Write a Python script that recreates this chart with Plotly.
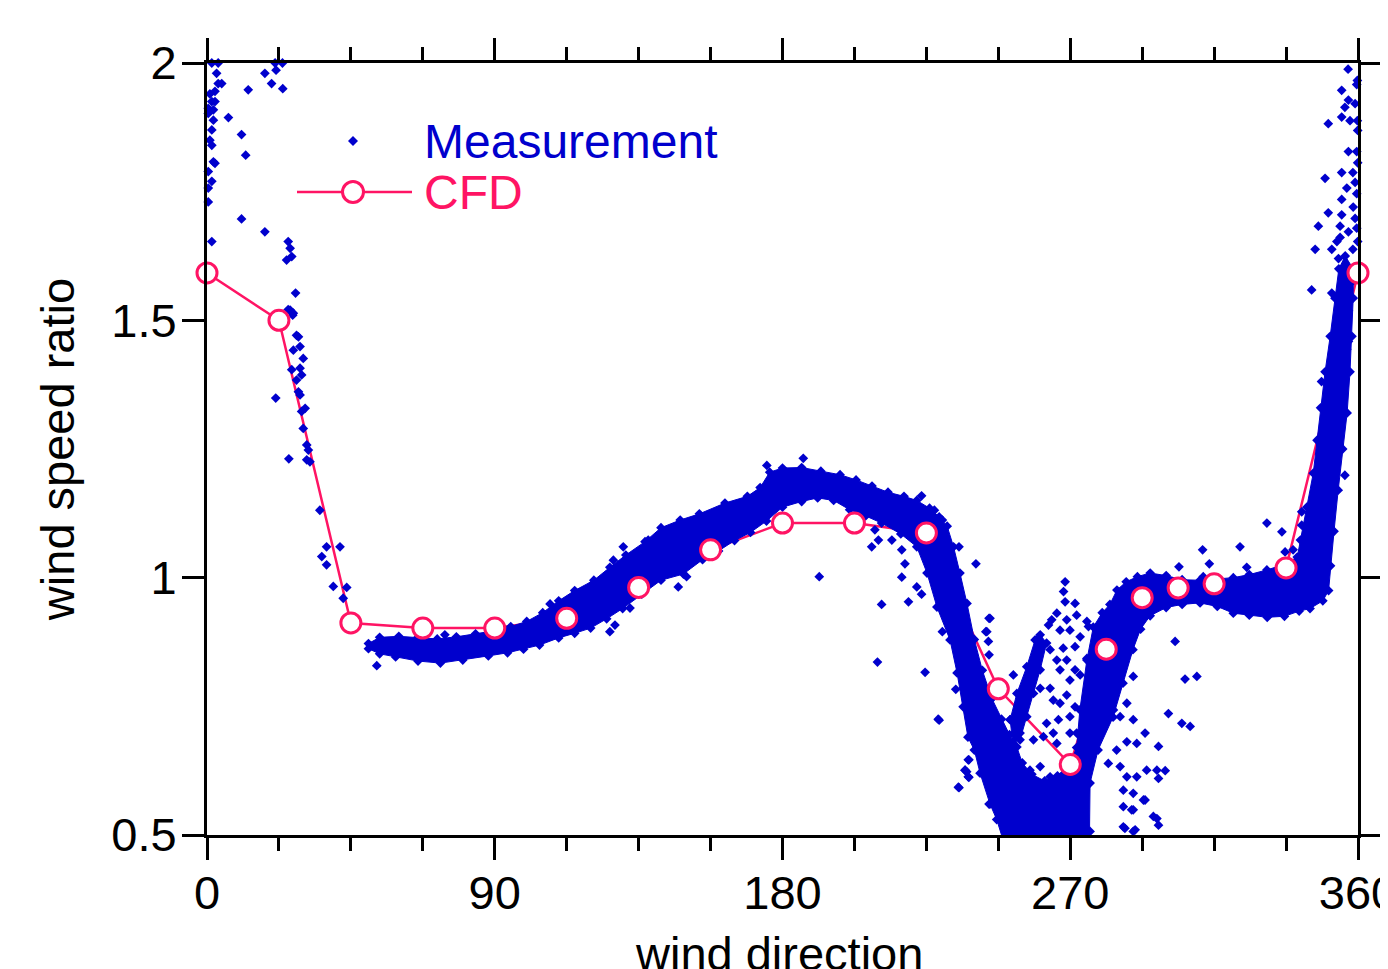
import plotly.graph_objects as go

# ---------------- data ----------------
# CFD results
cfd_x = [0, 22.5, 45, 67.5, 90, 112.5, 135, 157.5, 180, 202.5, 225, 247.5,
         270, 281.25, 292.5, 303.75, 315, 337.5, 360]
cfd_y = [1.592, 1.50, 0.912, 0.902, 0.902, 0.921, 0.981, 1.054, 1.106, 1.106,
         1.087, 0.784, 0.637, 0.861, 0.961, 0.980, 0.988, 1.019, 1.592]

band_x = [50.5, 54, 60, 66, 72, 78, 84, 90, 95, 100, 105, 110, 115, 121, 126, 131, 137, 142,
          148, 154, 162, 169, 173, 176, 180, 186, 192, 198, 203, 208, 213, 218, 222, 226, 229,
          231.5, 233.5, 235.5, 237.7, 240, 242.5, 245.5, 248.5, 251, 253.3,
          255, 258, 262, 266, 270, 272,
          273, 275.2, 277.2, 280, 282.4, 284.6, 287.5, 291, 295, 300, 305, 310.6, 316, 321, 326,
          331.5, 337, 341, 342, 344, 346, 347.2, 348.3, 349.7, 351.3, 352.8, 354, 356,
          358.5, 358.5, 358.1, 357.5, 356.6, 355.2, 353.8, 352.5, 351.4, 350.8, 349,
          345, 341.6, 337, 331.6, 326, 321, 316, 310.6, 305, 300, 295, 292, 289.6, 286.5, 283.4,
          278.7, 276.2, 276, 249,
          247, 244.9, 241.8, 240, 238, 236.5, 234.6, 232.4, 228.3, 225.2, 222, 217, 211, 206,
          201, 196, 191, 186, 180, 175, 170, 165, 160, 155, 149, 142, 136, 130, 125, 120, 115,
          110, 104, 99, 94, 88, 80, 73, 66, 59, 54, 50.5]
band_y = [0.872, 0.884, 0.886, 0.884, 0.881, 0.885, 0.891, 0.897, 0.905, 0.915, 0.932, 0.955,
          0.975, 0.995, 1.02, 1.044, 1.07, 1.097, 1.112, 1.124, 1.145, 1.158, 1.175, 1.205,
          1.213, 1.214, 1.207, 1.2, 1.19, 1.178, 1.166, 1.158, 1.15, 1.135, 1.118,
          1.1, 1.06, 1.009, 0.95, 0.88, 0.82, 0.765, 0.725, 0.695, 0.671,
          0.64, 0.618, 0.605, 0.615, 0.64, 0.67,
          0.743, 0.84, 0.904, 0.932, 0.948, 0.976, 0.992, 1.002, 1.009, 1.004, 0.996, 0.995,
          0.998, 1.0, 1.006, 1.015, 1.026, 1.04, 1.073, 1.137, 1.203, 1.267, 1.33, 1.4, 1.469,
          1.543, 1.6, 1.625,
          1.6, 1.543, 1.469, 1.4, 1.32, 1.25, 1.17, 1.09, 1.023, 0.975, 0.955,
          0.94, 0.935, 0.925, 0.923, 0.927, 0.931, 0.944, 0.951, 0.948, 0.942, 0.926, 0.9,
          0.86, 0.795, 0.729, 0.665, 0.601, 0.49, 0.49,
          0.53, 0.56, 0.62, 0.665, 0.69, 0.749, 0.815, 0.879, 0.943, 1.009, 1.06, 1.085, 1.106,
          1.12, 1.132, 1.15, 1.155, 1.148, 1.137, 1.11, 1.088, 1.072, 1.052, 1.035, 1.007,
          0.995, 0.968, 0.94, 0.92, 0.902, 0.892, 0.883, 0.869, 0.861, 0.854, 0.848, 0.84,
          0.834, 0.838, 0.846, 0.852, 0.862]

# Secondary dense branch inside the V near 255-262 deg
branch_x = [251.2, 253.3, 256.4, 259, 260.6, 262.6, 260.6, 258.5, 256.4, 254.3, 252, 251.2]
branch_y = [0.724, 0.775, 0.827, 0.879, 0.889, 0.873, 0.821, 0.775, 0.73, 0.685, 0.68, 0.724]

# Individual (sparse) measurement points
meas_x = [
    1.5, 3.5, 3.0, 3.5, 4.6, 0.9, 2.5, 1.5, 2.5, 0.4, 2.0, 0.4, 2.0, 1.5, 0.9, 1.5, 2.0, 2.5,
    0.4, 1.5, 0.4, 0.4, 1.5, 6.7, 10.8, 12.1, 10.8, 12.9, 18.1, 21.6, 21.3, 23.6, 20.2, 23.7,
    18.1, 25.4, 26.0, 24.9, 26.5, 27.7, 26.0, 26.8, 25.4, 27.0, 28.0, 28.6, 29.1, 27.0, 30.1,
    26.5, 29.1, 29.6, 28.0, 28.6, 29.1, 30.7, 29.6, 30.1, 31.2, 31.7, 31.2, 32.2, 21.5, 25.6,
    35.3, 37.4, 41.6, 35.9, 37.4, 39.5, 43.7, 42.6, 53.1, 74.4,
    107.3, 126, 127.6, 132.3, 120.8, 130.2, 127.1, 138, 117.7, 147.4, 150, 175.1, 186.5, 191.5,
    207.9, 210, 208.9, 214.2, 217.3, 218.3, 217.3, 211, 219.4, 222, 223.5, 209.7, 224.6, 230,
    229, 234.2, 240.5, 235.2, 244.6, 243.6, 244.4, 244.6, 238.3, 237.1, 238.3, 235.2, 244.6,
    223.5, 227.5, 230, 228.7, 235, 237.6, 244.9, 243.9, 252.2,
    268.4, 267.9, 268.4, 271.5, 265.8, 264.2, 268.9, 272.0, 275.2, 275.7, 266.8, 269.9, 273.1,
    263.2, 259.5, 263.7, 267.8, 271.5, 275.2, 265.8, 268.9, 266.8, 271.5, 269.9, 273.1, 260.6,
    263.7, 257.4, 268.9, 264.7, 266.8, 271.5, 269.9, 262.6, 266.3, 272.0, 254.3, 258.5, 261.6,
    264.7, 265.8, 269.9, 257.4, 260.6, 263.7, 259.5, 261.6, 238.1, 237.1, 238.1,
    289.7, 287.7, 285.6, 283.5, 289.7, 293.4, 287.7, 290.8, 284.5, 281.9, 285.6, 287.7, 290.8,
    293.9, 297.1, 286.6, 289.7, 286.6, 292.9, 289.7, 296.0, 286.6, 289.7,
    302.8, 305.9, 309.6, 300.7, 304.9, 307.5, 297.6, 299.7, 297.6, 297.1, 297.6, 290.3, 287.1,
    293.4, 289.2, 276.2,
    304, 311.4, 313.5, 323.1, 325.2, 331.5, 336.2, 342.4, 342.4, 342.9, 339.7, 311.6,
    356.9, 359.8, 359.6, 354.9, 359.1, 357.0, 355.9, 354.9, 357.5, 359.8, 350.7, 359.9, 357.0,
    359.6, 359.9, 354.9, 358.4, 349.7, 359.1, 356.5, 359.6, 354.9, 358.5, 350.7, 354.9, 359.1,
    354.4, 359.6, 347.6, 354.4, 357.0, 353.4, 359.9, 346.6, 351.8, 358.4, 353.9, 355.4, 345.5,
    351.8, 354.9, 357.5, 354.9, 357.0, 354.4, 356.5, 354.4, 357.0, 348.6, 356.5, 355.9, 337.2,
    348.6]
meas_y = [
    2.0, 2.0, 1.98, 1.96, 1.96, 1.94, 1.945, 1.925, 1.925, 1.912, 1.909, 1.902, 1.889, 1.87,
    1.85, 1.84, 1.808, 1.805, 1.789, 1.77, 1.757, 1.73, 1.653, 1.894, 1.861, 1.821, 1.697,
    1.948, 1.98, 1.986, 2.0, 2.0, 1.96, 1.95, 1.672, 1.653, 1.64, 1.617, 1.624, 1.553, 1.52,
    1.51, 1.521, 1.514, 1.471, 1.468, 1.449, 1.442, 1.426, 1.404, 1.407, 1.394, 1.384, 1.361,
    1.355, 1.329, 1.323, 1.29, 1.258, 1.248, 1.229, 1.225, 1.349, 1.231, 1.131, 1.06, 1.06,
    1.041, 1.025, 0.983, 0.981, 0.96, 0.829, 0.889,
    0.949, 0.895, 0.908, 0.941, 0.989, 1.06, 1.034, 1.073, 0.97, 0.982, 1.002, 1.218, 1.232,
    1.002,
    1.06, 1.073, 1.093, 1.073, 1.054, 1.027, 1.001, 0.948, 0.953, 0.982, 0.968, 0.836, 0.816,
    0.895, 0.723, 0.783, 1.027, 1.06, 0.921, 0.895, 0.876, 0.85, 0.646, 0.626, 0.612, 0.592,
    0.56, 1.159, 1.131, 1.112, 0.725, 0.593, 0.623, 0.921, 0.895, 0.811,
    0.992, 0.973, 0.953, 0.95, 0.931, 0.918, 0.918, 0.927, 0.915, 0.905, 0.898, 0.898, 0.885,
    0.908, 0.879, 0.86, 0.863, 0.866, 0.843, 0.84, 0.84, 0.821, 0.821, 0.801, 0.811, 0.785,
    0.785, 0.775, 0.772, 0.762, 0.756, 0.749, 0.73, 0.717, 0.724, 0.698, 0.698, 0.685, 0.691,
    0.698, 0.678, 0.698, 0.626, 0.633, 0.613, 0.594, 0.574, 0.646, 0.626, 0.613,
    0.808, 0.756, 0.73, 0.743, 0.724, 0.698, 0.681, 0.678, 0.665, 0.639, 0.633, 0.613, 0.613,
    0.626, 0.626, 0.587, 0.581, 0.555, 0.568, 0.549, 0.536, 0.516, 0.507,
    0.876, 0.803, 0.808, 0.736, 0.717, 0.711, 0.672, 0.625, 0.61, 0.532, 0.519, 0.51, 0.513,
    0.568, 0.549, 0.507,
    1.021, 1.054, 1.027, 1.06, 1.02, 1.106, 1.089, 1.128, 1.102, 1.076, 1.054, 1.002,
    1.988, 1.966, 1.958, 1.947, 1.921, 1.928, 1.914, 1.895, 1.888, 1.888, 1.882, 1.869, 1.828,
    1.828, 1.806, 1.787, 1.787, 1.776, 1.768, 1.757, 1.746, 1.735, 1.72, 1.709, 1.705, 1.698,
    1.683, 1.679, 1.683, 1.661, 1.672, 1.653, 1.653, 1.638, 1.638, 1.638, 1.62, 1.601, 1.559,
    1.553, 1.564, 1.571, 1.534, 1.519, 1.504, 1.489, 1.467, 1.459, 1.381, 1.444, 1.199, 1.05,
    1.27]

x_ticks = [0, 90, 180, 270, 360]
y_ticks = [0.5, 1, 1.5, 2]
y_ticktext = ["0.5", "1", "1.5", "2"]

# ---------------- styling ----------------
BLUE = "rgb(0,0,205)"
PINK = "rgb(255,20,100)"
FONT = "Liberation Sans, Arial, sans-serif"
FS = 47
FS_LEG = 48
MS = 7.5

fig = go.Figure()

# CFD connecting line (under the measurement cloud)
fig.add_trace(go.Scatter(x=cfd_x, y=cfd_y, mode="lines",
                         line=dict(color=PINK, width=2.5), showlegend=False,
                         hoverinfo="skip"))

# dense measurement band
for bx, by in ((band_x, band_y), (branch_x, branch_y)):
    fig.add_trace(go.Scatter(x=bx, y=by, mode="lines+markers", fill="toself",
                             fillcolor=BLUE, line=dict(color=BLUE, width=1),
                             marker=dict(symbol="diamond", size=MS, color=BLUE),
                             showlegend=False, hoverinfo="skip"))

# sparse measurement points
fig.add_trace(go.Scatter(x=meas_x, y=meas_y, mode="markers", name="Measurement",
                         marker=dict(symbol="diamond", size=MS, color=BLUE),
                         cliponaxis=False, showlegend=False))

# CFD markers on top
fig.add_trace(go.Scatter(x=cfd_x, y=cfd_y, mode="markers", name="CFD",
                         marker=dict(symbol="circle", size=20, color="white",
                                     line=dict(color=PINK, width=3)),
                         cliponaxis=False, showlegend=False))

# page body has an 8px margin: figure placed at (8, 8) in the 1388x969 window
OFF = 8
W, H = 1388 - OFF, 969 - OFF
L, R, T, B = 207 - OFF, 30, 63 - OFF, 134
pw, ph = W - L - R, H - T - B


def px_x(p):  # reference pixel -> paper x
    return (p - OFF - L) / pw


def px_y(p):  # reference pixel -> paper y
    return (H - B - (p - OFF)) / ph


# legend drawn by shapes / annotations
shapes = [
    dict(type="line", xref="paper", yref="paper", x0=px_x(297), x1=px_x(412),
         y0=px_y(192), y1=px_y(192), line=dict(color=PINK, width=2.5)),
    dict(type="circle", xref="paper", yref="paper", xsizemode="pixel", ysizemode="pixel",
         xanchor=px_x(353), yanchor=px_y(192), x0=-10.5, x1=10.5, y0=-10.5, y1=10.5,
         fillcolor="white", line=dict(color=PINK, width=3)),
    dict(type="path", xref="paper", yref="paper", xsizemode="pixel", ysizemode="pixel",
         xanchor=px_x(353), yanchor=px_y(141), path="M -5 0 L 0 5 L 5 0 L 0 -5 Z",
         fillcolor=BLUE, line=dict(color=BLUE, width=0)),
]
annotations = [
    dict(text="Measurement", xref="paper", yref="paper", x=px_x(422), y=px_y(141),
         xanchor="left", yanchor="middle", showarrow=False,
         font=dict(family=FONT, size=FS_LEG, color=BLUE)),
    dict(text="CFD", xref="paper", yref="paper", x=px_x(422), y=px_y(192),
         xanchor="left", yanchor="middle", showarrow=False,
         font=dict(family=FONT, size=FS_LEG, color=PINK)),
    # x-axis title (partly cut by the bottom edge, as in the reference)
    dict(text="wind direction", xref="paper", yref="paper", x=px_x(779), y=px_y(953),
         xanchor="center", yanchor="middle", showarrow=False,
         font=dict(family=FONT, size=FS, color="black")),
]

fig.update_layout(
    width=W, height=H,
    margin=dict(l=L, r=R, t=T, b=B, autoexpand=False),
    paper_bgcolor="white", plot_bgcolor="white",
    font=dict(family=FONT, size=FS, color="black"),
    shapes=shapes, annotations=annotations, showlegend=False,
    xaxis=dict(range=[0, 360], tickvals=x_ticks, ticks="outside", ticklen=22,
               tickwidth=2.8, tickcolor="black", showline=True, linewidth=2.8,
               linecolor="black", mirror="ticks", showgrid=False, zeroline=False,
               ticklabelstandoff=-7, ticklabeloverflow="allow",
               minor=dict(dtick=22.5, tick0=0, ticks="outside", ticklen=13, tickwidth=2.8,
                          tickcolor="black", showgrid=False),
               tickfont=dict(family=FONT, size=FS, color="black")),
    yaxis=dict(range=[0.5, 2], tickvals=y_ticks, ticktext=y_ticktext, ticks="outside",
               ticklen=22, tickwidth=2.8, tickcolor="black", showline=True, linewidth=2.8,
               linecolor="black", mirror="ticks", showgrid=False, zeroline=False,
               ticklabelstandoff=-4, ticklabeloverflow="allow",
               tickfont=dict(family=FONT, size=FS, color="black"),
               title=dict(text="wind speed ratio", standoff=22,
                          font=dict(family=FONT, size=FS, color="black"))),
)

fig.write_html("out.html")
